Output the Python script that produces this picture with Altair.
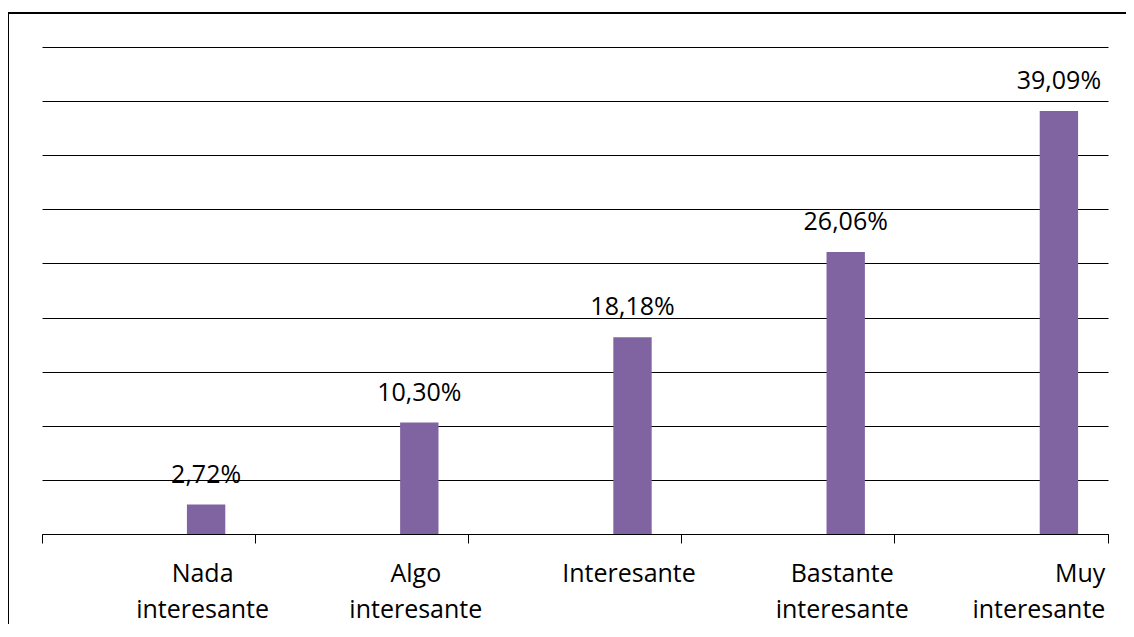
import altair as alt
import pandas as pd

categories = ["Nada interesante", "Algo interesante", "Interesante",
              "Bastante interesante", "Muy interesante"]
values = [2.72, 10.30, 18.18, 26.06, 39.09]
value_labels = ["2,72%", "10,30%", "18,18%", "26,06%", "39,09%"]
y_ticks = [0, 5, 10, 15, 20, 25, 30, 35, 40, 45]

df = pd.DataFrame({"cat": categories, "val": values, "lab": value_labels})

FONT = "Open Sans"
PURPLE = "#8064A2"
BAND_SHIFT = 57.5

x_enc = alt.X(
    "cat:N",
    sort=categories,
    scale=alt.Scale(paddingInner=0, paddingOuter=0),
    axis=alt.Axis(
        title=None,
        bandPosition=1,
        tickExtra=True,
        tickSize=9,
        tickColor="#000000",
        domainColor="#000000",
        labelAngle=0,
        labelExpr="split(datum.label, ' ')",
        labelFont=FONT,
        labelFontSize=25,
        labelColor="#000000",
        labelLineHeight=36,
        labelBaseline="alphabetic",
        labelPadding=38,
        labelOverlap=False,
        labelBound=False,
        labelAlign={"condition": {"test": "datum.value === 'Muy interesante'", "value": "right"}, "value": "center"},
        labelOffset={"condition": {"test": "datum.value === 'Muy interesante'", "value": 104}, "value": 54},
    ),
)

y_enc = alt.Y(
    "val:Q",
    scale=alt.Scale(domain=[0, 45], nice=False),
    axis=alt.Axis(
        title=None,
        values=y_ticks,
        labels=False,
        ticks=False,
        domain=False,
        grid=True,
        gridColor="#000000",
        gridWidth=1,
        gridOpacity=1,
    ),
)

bars = alt.Chart(df).mark_bar(
    color=PURPLE, width=alt.RelativeBandSize(0.18), xOffset=BAND_SHIFT
).encode(x=x_enc, y=y_enc)

texts = alt.Chart(df).mark_text(
    font=FONT, fontSize=25, color="#000000", baseline="alphabetic",
    align="center", dy=-22, dx=BAND_SHIFT
).encode(x=alt.X("cat:N", sort=categories), y="val:Q", text="lab:N")

top_line = alt.Chart(df).mark_rule(color="#000000", strokeWidth=1.5).encode(
    x=alt.value(-34), x2=alt.value(1200), y=alt.value(-34)
)
left_line = alt.Chart(df).mark_rule(color="#000000", strokeWidth=1.5).encode(
    x=alt.value(-34), y=alt.value(-34), y2=alt.value(800)
)

chart = alt.layer(bars, texts, top_line, left_line).properties(
    width=1066,
    height=487,
    autosize=alt.AutoSizeParams(type="none"),
    padding={"left": 34, "top": 39, "right": 18, "bottom": 90},
    background="#ffffff",
).configure_view(stroke=None)

chart.save("out.html", embed_options={"renderer": "svg", "actions": False})
